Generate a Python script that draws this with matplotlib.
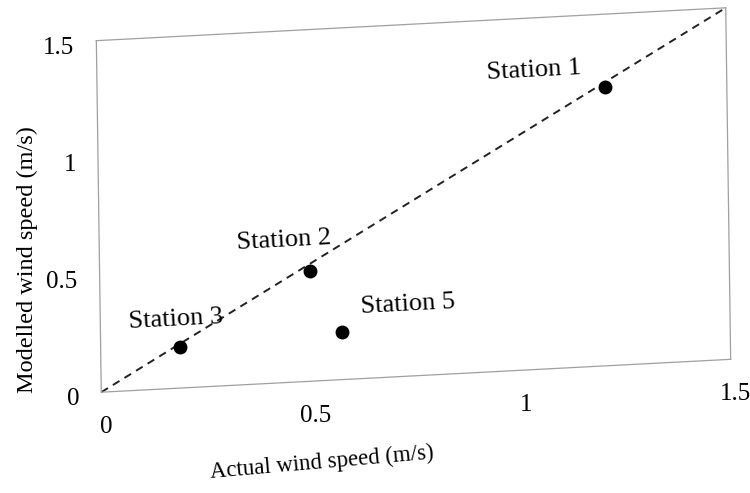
import numpy as np
import matplotlib
matplotlib.use("Agg")
import matplotlib.pyplot as plt
from matplotlib.transforms import Affine2D
import mpl_toolkits.axisartist.floating_axes as floating_axes

plt.rcParams['font.family'] = ['Liberation Serif', 'DejaVu Serif']

# data
stations = ['Station 1', 'Station 2', 'Station 3', 'Station 5']
actual = [1.21, 0.50, 0.19, 0.575]
modelled = [1.19, 0.47, 0.175, 0.205]
tick_values = [0, 0.5, 1, 1.5]
tick_labels = ['0', '0.5', '1', '1.5']

# label placement (pixels from the dot)
label_offsets = [(-71, 16), (-26, 31), (-5, 27), (66, 27)]

# the page was scanned crooked: shear the axes with an affine map data -> pixels
skew = Affine2D(np.array([[421.3, -3.3, 100.0],
                          [22.0, 235.3, 100.0],
                          [0.0, 0.0, 1.0]]))
helper = floating_axes.GridHelperCurveLinear(skew, extremes=(0, 1.5, 0, 1.5))

fig = plt.figure(figsize=(7.5, 4.93), dpi=100)
ax = fig.add_axes([90 / 750, 95 / 493, 647 / 750, 396 / 493],
                  axes_class=floating_axes.FloatingAxes, grid_helper=helper)
for side in ['left', 'right', 'bottom', 'top']:
    ax.axis[side].line.set_color('#a0a0a0')
    ax.axis[side].line.set_linewidth(0.9)
    ax.axis[side].major_ticks.set_visible(False)
    ax.axis[side].major_ticklabels.set_visible(False)
    ax.axis[side].label.set_visible(False)

aux = ax.get_aux_axes(skew)

# 1:1 line
aux.plot([0, 1.5], [0, 1.5], ls=(0, (4, 3)), color='#222222', lw=1.4)
aux.plot(actual, modelled, 'o', ms=9, color='black')

for name, x, y, off in zip(stations, actual, modelled, label_offsets):
    aux.annotate(name, (x, y), xytext=off, textcoords='offset pixels',
                 ha='center', va='center', fontsize=19, rotation=3)

for v, s in zip(tick_values, tick_labels):
    aux.annotate(s, (v, 0), xytext=(5, -35), textcoords='offset pixels',
                 ha='center', va='center', fontsize=18)
    aux.annotate(s, (0, v), xytext=(-22, -7), textcoords='offset pixels',
                 ha='right', va='center', fontsize=18)

fig.text(322 / 750, 1 - 463 / 493, 'Actual wind speed (m/s)',
         ha='center', va='center', fontsize=16.5, rotation=5)
fig.text(27 / 750, 1 - 260 / 493, 'Modelled wind speed (m/s)',
         ha='center', va='center', fontsize=17.5, rotation=90)

fig.savefig('out.png', dpi=100)
plt.close(fig)
